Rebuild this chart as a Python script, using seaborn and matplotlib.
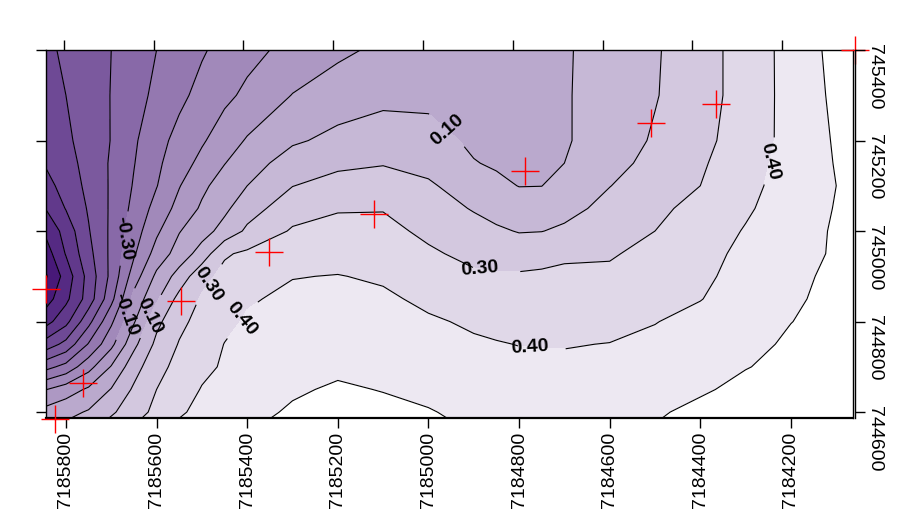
import numpy as np
import matplotlib
matplotlib.use("Agg")
import matplotlib.pyplot as plt
from matplotlib.colors import LinearSegmentedColormap, Normalize
import seaborn as sns

# grid nodes (x = northing axis, y = easting axis)
x_nodes = [7185850, 7185800, 7185750, 7185700, 7185650, 7185600, 7185550, 7185500,
           7185450, 7185400, 7185300, 7185200, 7185100, 7185000, 7184900, 7184850,
           7184800, 7184750, 7184700, 7184600, 7184500, 7184400, 7184300, 7184200,
           7184100, 7184000]
y_nodes = [745400, 745300, 745200, 745150, 745100, 745050, 745000, 744950, 744900,
           744850, 744800, 744750, 744700, 744650, 744600, 744550]

# estimated surface values at the nodes, one list per y node
z_745400 = [-0.53, -0.48, -0.44, -0.40, -0.35, -0.30, -0.255, -0.21, -0.17, -0.13, -0.07, -0.02,
            0.02, 0.04, 0.055, 0.063, 0.07, 0.08, 0.09, 0.14, 0.19, 0.26, 0.34, 0.435, 0.53, 0.56]
z_745300 = [-0.55, -0.50, -0.448, -0.397, -0.337, -0.278, -0.222, -0.171, -0.122, -0.08, 0.003, 0.05,
            0.075, 0.078, 0.072, 0.07, 0.07, 0.08, 0.092, 0.139, 0.194, 0.26, 0.34, 0.434, 0.52, 0.55]
z_745200 = [-0.585, -0.52, -0.455, -0.397, -0.314, -0.234, -0.17, -0.112, -0.049, 0.009, 0.086, 0.126,
            0.149, 0.132, 0.085, 0.075, 0.07, 0.08, 0.09, 0.149, 0.211, 0.273, 0.347, 0.431, 0.51, 0.54]
z_745150 = [-0.60, -0.54, -0.463, -0.389, -0.304, -0.219, -0.145, -0.072, -0.003, 0.054, 0.147, 0.179,
            0.194, 0.173, 0.104, 0.09, 0.08, 0.09, 0.1, 0.168, 0.229, 0.287, 0.361, 0.436, 0.505, 0.535]
z_745100 = [-0.64, -0.564, -0.473, -0.388, -0.292, -0.204, -0.105, -0.021, 0.044, 0.1, 0.198, 0.237,
            0.247, 0.212, 0.155, 0.119, 0.098, 0.099, 0.135, 0.198, 0.249, 0.3, 0.373, 0.44, 0.5, 0.53]
z_745050 = [-0.71, -0.595, -0.49, -0.385, -0.273, -0.165, -0.067, 0.014, 0.08, 0.158, 0.257, 0.292,
            0.295, 0.245, 0.193, 0.165, 0.142, 0.149, 0.17, 0.228, 0.28, 0.328, 0.388, 0.446, 0.505, 0.53]
z_745000 = [-0.80, -0.66, -0.507, -0.381, -0.247, -0.118, -0.005, 0.061, 0.135, 0.218, 0.311, 0.332,
            0.327, 0.28, 0.235, 0.214, 0.195, 0.198, 0.216, 0.26, 0.3, 0.353, 0.406, 0.458, 0.51, 0.53]
z_744950 = [-0.87, -0.693, -0.531, -0.377, -0.213, -0.06, 0.042, 0.142, 0.289, 0.317, 0.353, 0.367,
            0.358, 0.314, 0.275, 0.264, 0.257, 0.268, 0.284, 0.29, 0.331, 0.374, 0.418, 0.467, 0.51, 0.535]
z_744900 = [-0.93, -0.76, -0.564, -0.373, -0.15, 0.022, 0.14, 0.27, 0.327, 0.35, 0.397, 0.403,
            0.389, 0.348, 0.315, 0.31, 0.311, 0.315, 0.32, 0.32, 0.349, 0.384, 0.428, 0.477, 0.52, 0.54]
z_744850 = [-0.86, -0.724, -0.555, -0.33, -0.067, 0.085, 0.232, 0.311, 0.352, 0.391, 0.418, 0.424,
            0.414, 0.383, 0.352, 0.344, 0.342, 0.343, 0.346, 0.348, 0.372, 0.397, 0.445, 0.489, 0.52, 0.54]
z_744800 = [-0.75, -0.63, -0.43, -0.218, -0.009, 0.175, 0.276, 0.333, 0.378, 0.41, 0.43, 0.44,
            0.43, 0.41, 0.389, 0.376, 0.372, 0.369, 0.37, 0.374, 0.397, 0.428, 0.463, 0.499, 0.52, 0.54]
z_744750 = [-0.57, -0.469, -0.292, -0.127, 0.075, 0.224, 0.306, 0.354, 0.402, 0.42, 0.44, 0.46,
            0.45, 0.43, 0.41, 0.405, 0.398, 0.396, 0.396, 0.402, 0.42, 0.45, 0.481, 0.51, 0.53, 0.55]
z_744700 = [-0.34, -0.267, -0.135, 0.007, 0.16, 0.268, 0.33, 0.379, 0.41, 0.43, 0.46, 0.485,
            0.48, 0.46, 0.44, 0.43, 0.42, 0.417, 0.415, 0.42, 0.44, 0.47, 0.497, 0.52, 0.54, 0.55]
z_744650 = [-0.11, -0.049, 0.016, 0.105, 0.215, 0.3, 0.355, 0.405, 0.426, 0.446, 0.49, 0.51,
            0.497, 0.48, 0.46, 0.452, 0.445, 0.442, 0.44, 0.45, 0.47, 0.49, 0.52, 0.54, 0.55, 0.56]
z_744600 = [0.03, 0.07, 0.11, 0.185, 0.256, 0.326, 0.389, 0.422, 0.45, 0.476, 0.51, 0.525,
            0.52, 0.505, 0.48, 0.47, 0.46, 0.457, 0.455, 0.465, 0.49, 0.52, 0.54, 0.55, 0.56, 0.56]
z_744550 = [0.12, 0.15, 0.2, 0.27, 0.33, 0.39, 0.43, 0.45, 0.47, 0.5, 0.53, 0.54,
            0.54, 0.52, 0.5, 0.487, 0.475, 0.472, 0.47, 0.48, 0.51, 0.54, 0.55, 0.56, 0.57, 0.57]

# sample stations (red crosses)
station_x = [7185844, 7185762, 7185824, 7185546, 7185352, 7185120, 7184787, 7184509, 7184365, 7184059]
station_y = [744872, 744664, 744585, 744845, 744954, 745038, 745133, 745239, 745281, 745400]

x_ticks = [7185800, 7185600, 7185400, 7185200, 7185000, 7184800, 7184600, 7184400, 7184200]
y_ticks = [744600, 744800, 745000, 745200, 745400]

fill_levels = [-1.0, -0.9, -0.8, -0.7, -0.6, -0.5, -0.4, -0.3, -0.2, -0.1, 0.0,
               0.1, 0.2, 0.3, 0.4, 0.5, 0.7]

# where the contour values are written on the map
label_levels = [-0.3, -0.1, 0.1, 0.3, 0.4, 0.1, 0.3, 0.4, 0.4]
label_x = [7185676, 7185670, 7185610, 7185489, 7185420, 7184964, 7184886, 7184776, 7184257]
label_y = [744984, 744817, 744810, 744885, 744810, 745217, 744918, 744748, 745157]

sns.set_style("white")
plt.rcParams['font.family'] = ['Liberation Sans', 'DejaVu Sans']
plt.rcParams['contour.negative_linestyle'] = 'solid'

fig = plt.figure(figsize=(9.04, 5.16), dpi=100)
ax = fig.add_axes([46 / 904, 1 - 418 / 516, 807 / 904, 368 / 516])

X, Y = np.meshgrid(x_nodes, y_nodes)
Z = np.array([z_745400, z_745300, z_745200, z_745150, z_745100, z_745050, z_745000,
              z_744950, z_744900, z_744850, z_744800, z_744750, z_744700, z_744650,
              z_744600, z_744550])

cmap = LinearSegmentedColormap.from_list("surfer_purple", ["#3c0a70", "#ffffff"])
norm = Normalize(vmin=-0.95, vmax=0.6)
ax.contourf(X, Y, Z, levels=fill_levels, cmap=cmap, norm=norm)

labelled = sorted(set(label_levels))
plain_levels = [lv for lv in fill_levels[1:-1] if lv not in labelled]
ax.contour(X, Y, Z, levels=plain_levels, colors='black', linewidths=0.8,
           linestyles='solid')

# every labelled level gets its own contour set so the labels sit on the right line
for lev in labelled:
    cs = ax.contour(X, Y, Z, levels=[lev], colors='black', linewidths=0.8,
                    linestyles='solid')
    spots = [(lx, ly) for lv, lx, ly in zip(label_levels, label_x, label_y) if lv == lev]
    texts = ax.clabel(cs, manual=spots, fmt='%.2f', fontsize=14,
                      inline=True, inline_spacing=4)
    for t in texts:
        t.set_fontweight('bold')

sns.scatterplot(x=station_x, y=station_y, marker='+', s=400, color='red',
                linewidth=1.0, ax=ax, clip_on=False, zorder=6, legend=False)

ax.set_xlim(7185844, 7184063)
ax.set_ylim(744587, 745400)

ax.set_xticks(x_ticks)
ax.set_xticklabels([str(t) for t in x_ticks], rotation=90)
ax.set_yticks(y_ticks)
ax.tick_params(axis='x', bottom=True, top=False, direction='out', length=7, width=1,
               labelsize=14, pad=3, colors='black')
ax.tick_params(axis='y', left=True, right=False, labelleft=False, direction='out',
               length=7, width=1, colors='black')
for side, sp in ax.spines.items():
    sp.set_visible(True)
    sp.set_color('black')
    sp.set_linewidth(1.0)
ax.spines['bottom'].set_linewidth(1.6)
ax.set_xlabel('')
ax.set_ylabel('')

# right-hand axis, drawn just outside the frame
ax_r = ax.twinx()
ax_r.set_ylim(ax.get_ylim())
ax_r.set_yticks(y_ticks)
ax_r.set_yticklabels([str(t) for t in y_ticks])
ax_r.tick_params(axis='y', right=True, direction='out', length=7, width=1,
                 labelsize=14, pad=1, colors='black', labelrotation=-90)
for lab in ax_r.get_yticklabels():
    lab.set_verticalalignment('center')
for side, sp in ax_r.spines.items():
    sp.set_visible(side == 'right')
ax_r.spines['right'].set_position(('outward', 1.5))
ax_r.spines['right'].set_linewidth(1.0)
ax_r.spines['right'].set_color('black')

# top axis, ticks only
ax_t = ax.twiny()
ax_t.set_xlim(7185840, 7184042)
ax_t.set_xticks(x_ticks)
ax_t.tick_params(axis='x', top=True, labeltop=False, direction='out', length=7,
                 width=1, colors='black')
for side, sp in ax_t.spines.items():
    sp.set_visible(False)

fig.savefig("out.png", dpi=100)
